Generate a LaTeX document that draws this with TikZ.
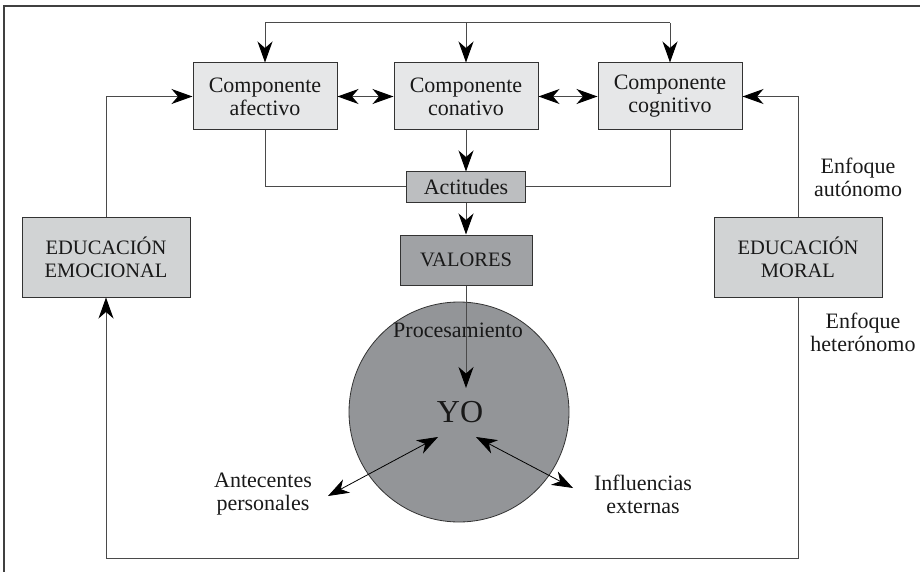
\documentclass[tikz,border=0pt]{standalone}
\usepackage{fontspec}
\setmainfont{Liberation Serif}
\usetikzlibrary{arrows.meta}
\definecolor{compfill}{HTML}{E6E7E8}
\definecolor{actfill}{HTML}{BCBEC0}
\definecolor{valfill}{HTML}{A0A2A5}
\definecolor{circfill}{HTML}{939598}
\definecolor{edufill}{HTML}{D1D3D4}
\definecolor{linecol}{HTML}{4A4A4A}
\definecolor{bordcol}{HTML}{333333}
\begin{document}
\begin{tikzpicture}[x=1pt,y=-1pt,
  txt/.style={font=\fontsize{22}{23}\selectfont, align=center, text=black!90},
  captxt/.style={font=\fontsize{20.5}{23}\selectfont, align=center, text=black!90},
  box/.style={txt, draw=bordcol, line width=1pt, inner sep=0pt},
  comp/.style={box, fill=compfill, minimum width=144pt, minimum height=67pt},
  edu/.style={box, captxt, fill=edufill, minimum width=168pt, minimum height=80pt},
  conn/.style={draw=linecol, line width=1pt},
  tip/.tip={Stealth[length=21pt,width=15pt,inset=6.5pt,color=black]},
  arr/.style={conn, -tip},
  darr/.style={conn, tip-tip},
  thin2/.style={draw=black, line width=0.8pt, tip-tip}
]
\useasboundingbox (0,0) rectangle (920,572);
% frame (top and left edges only)
\draw[draw=black!75, line width=2pt] (4,572) -- (4,6) -- (920,6);

% top components
\node[comp] (af)  at (265,96.5) {Componente\\afectivo};
\node[comp] (con) at (466,96.5) {Componente\\conativo};
\node[comp] (cog) at (670,96.5) {Componente\\cognitivo};
\node[box, fill=actfill, minimum width=119pt, minimum height=30pt] (act) at (466,187) {Actitudes};
\node[box, captxt, fill=valfill, minimum width=132pt, minimum height=50pt] (val) at (466,260) {VALORES};

% side boxes
\node[edu] (emo) at (106,257) {EDUCACIÓN\\EMOCIONAL};
\node[edu] (mor) at (798,257.5) {EDUCACIÓN\\MORAL};

% circle
\node[circle, draw=bordcol, line width=0.8pt, fill=circfill, minimum size=220pt, inner sep=0pt] (yoc) at (459,412) {};
\node[font=\fontsize{32}{34}\selectfont, text=black!90, inner sep=0pt] (yo) at (460,412) {YO};
\node[txt] (proc) at (458,330) {Procesamiento};

% top feedback line
\coordinate (top) at (0,23);
\draw[conn] (af.north |- top) -- (cog.north |- top);
\draw[arr] (af.north |- top) -- (af.north);
\draw[arr] (con.north |- top) -- (con.north);
\draw[arr] (cog.north |- top) -- (cog.north);

% horizontal double arrows
\draw[darr] (af.east) -- (con.west);
\draw[darr] (con.east) -- (cog.west);

% to actitudes
\draw[conn] (af.south) |- (act.west);
\draw[conn] (cog.south) |- (act.east);
\draw[arr] (con.south) -- (act.north);
\draw[arr] (act.south) -- (val.north);

% to YO
\coordinate (yotip) at (466,388);
\draw[arr] (val.south) -- (yotip);

% education loops
\draw[arr] (emo.north) |- (af.west);
\draw[arr] (mor.north) |- (cog.east);
\coordinate (bot) at (0,558);
\draw[arr] (mor.south) -- (mor.south |- bot) -| (emo.south);

% labels
\node[txt] (aut) at (858,177) {Enfoque\\autónomo};
\node[txt] (het) at (863,332) {Enfoque\\heterónomo};
\node[txt] (ant) at (263,494) {Antecentes\\personales};
\node[txt] (inf) at (643,494) {Influencias\\externas};

% YO double arrows
\coordinate (yl) at (438,437);
\coordinate (al) at (328,496);
\coordinate (yr) at (476,437);
\coordinate (ar) at (573,488);
\draw[thin2] (yl) -- (al);
\draw[thin2] (yr) -- (ar);
\end{tikzpicture}
\end{document}
